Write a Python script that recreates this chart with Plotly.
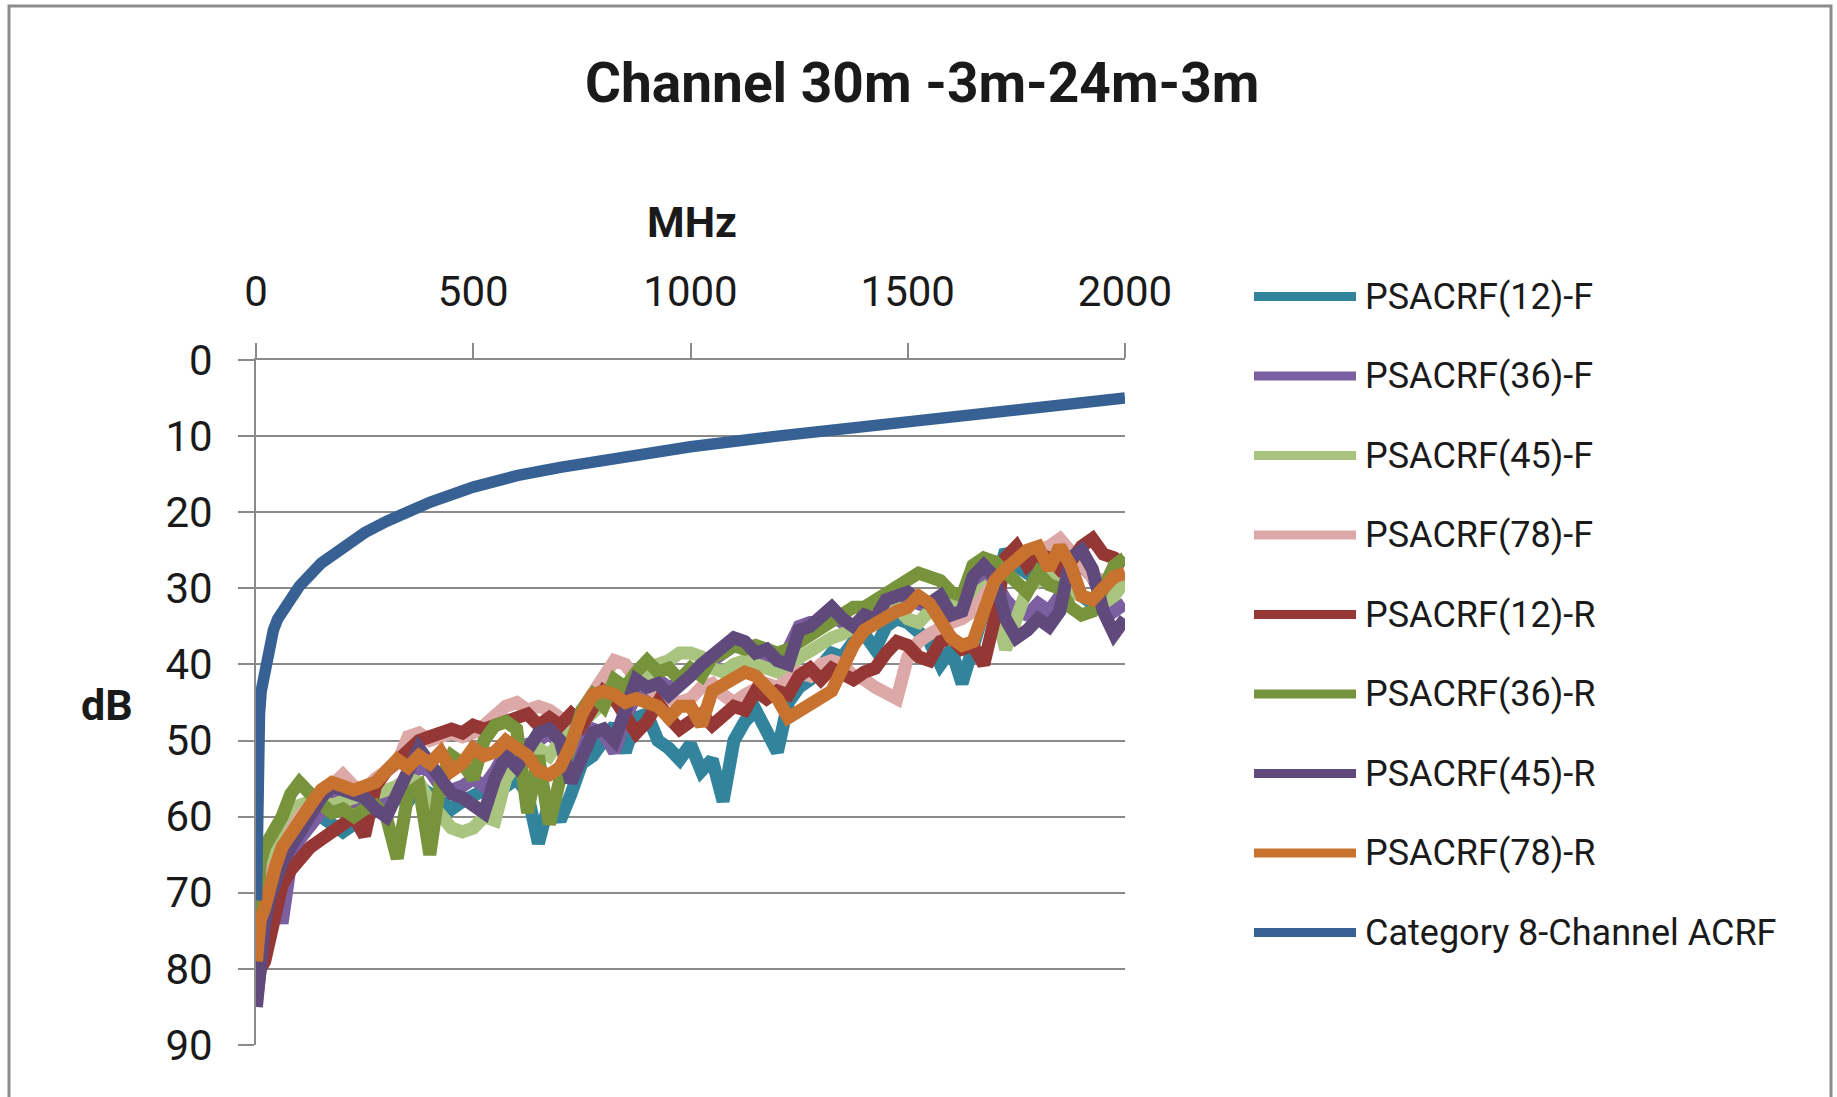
import plotly.graph_objects as go

# ---------------- data ----------------
freq = [1, 5, 10, 20, 30, 45, 60, 80, 100] + list(range(125, 2001, 25))

psacrf12_f = [78, 75, 72, 70, 68, 66, 64, 62, 60,
              59.5, 60, 61, 62, 61, 60.5, 59, 58, 57.5, 58,
              56, 57, 58, 59, 58, 57, 56.5, 57, 56, 55,
              57, 63.5, 58, 60.5, 57, 53, 52, 50, 48, 51.5,
              47, 46.5, 50, 51, 52.5, 50.5, 54, 52.5, 58, 50,
              47.5, 46, 49, 51.5, 45, 43, 42, 40.5, 38.5, 39,
              37, 36, 38, 35, 34, 34.5, 36, 37, 40, 38,
              42.5, 37, 33, 30, 25, 27, 28, 27, 29, 28,
              30, 31, 32, 31, 30, 29]

psacrf36_f = [83, 80, 77, 75, 73, 70, 74, 66, 63,
              61, 59, 57.5, 57, 58, 58, 57, 58, 56, 55,
              53.5, 54, 56, 56.5, 56, 55, 56, 54, 51.5, 52,
              50.5, 50, 49, 50.5, 53, 50, 48.5, 49, 51.5, 47,
              44, 43.5, 42, 43, 42.5, 41, 40.5, 39.5, 38.5, 37.5,
              38, 39, 39.5, 40, 38, 35, 34.5, 34.5, 33.5, 34.5,
              35, 34, 33.5, 32, 31.5, 31, 32, 32.5, 32, 33,
              32.5, 29.5, 28, 29, 31.5, 33, 33.5, 32, 33, 31,
              28, 27, 28.5, 31.5, 33, 32]

psacrf45_f = [76, 72, 68, 66, 65, 63, 61, 60, 58.5,
              58, 58, 58.5, 58, 57.5, 57, 57, 56.5, 56, 55,
              55.5, 58, 60, 61.5, 62, 61.5, 60, 60.5, 55, 53,
              52, 51, 52, 50, 49, 47.5, 46, 45, 44.5, 43,
              42, 41.5, 40, 39.5, 38.5, 38.5, 39, 40.5, 41, 40,
              39.5, 40, 40.5, 41, 40, 39, 38, 37.5, 36.5, 36,
              35, 34.5, 33.5, 33, 32.5, 34, 34.5, 33, 32.5, 32,
              31.5, 31, 30, 32, 38, 34, 30, 29, 28.5, 29,
              30.5, 31, 31.5, 32, 31, 29]

psacrf78_f = [80, 77, 74, 71, 68, 66, 64, 62, 60,
              58.5, 57, 56, 54.5, 56, 56.5, 55, 54, 53, 49.5,
              49, 50, 49.5, 49, 49.5, 49, 48, 46.5, 45.5, 45,
              46, 45.5, 46, 47, 47.5, 46, 44, 42, 39.5, 40,
              42, 43, 44, 44.5, 45, 44.5, 43, 42.5, 44, 45,
              44, 43, 42.5, 43, 42, 41, 41.5, 40, 39.5, 40,
              41.5, 42, 43, 44, 44.5, 39, 37, 36, 35, 34.5,
              34, 33, 31, 29, 27.5, 26, 25.5, 25, 24.5, 23.5,
              25, 27, 28.5, 29, 28.5, 28]

psacrf12_r = [84, 82, 80, 79, 76, 72, 69, 67, 65.5,
              64, 63, 62, 61.5, 60, 62.5, 56, 54, 52.5, 51,
              50, 49.5, 49, 48.5, 49, 48, 48.5, 48, 47.5, 47,
              46.5, 48, 47, 48, 46.5, 48, 45.5, 43.5, 44.5, 47,
              49, 47.5, 45, 47, 48.5, 47.5, 46.5, 48, 46.5, 45.5,
              46, 43.5, 44.5, 43.5, 44, 41.5, 40.5, 42, 40.5, 41.5,
              42, 41, 40.5, 38.5, 37, 37.5, 39, 39.5, 37, 36.5,
              38, 37.5, 40, 34, 26, 24.5, 27, 25.5, 26, 27.5,
              26.5, 24.5, 23.5, 25.5, 26, 27]

psacrf36_r = [75, 69, 66, 64, 63, 62, 60, 57, 55.5,
              57, 58.5, 59.5, 59, 60, 59, 58.5, 60, 65.5, 57,
              56, 65, 55, 52, 53, 55, 50, 48, 47.5, 48.5,
              59.5, 52, 61, 55, 50.5, 46, 44, 45.5, 42, 43,
              41, 39.5, 41, 40.5, 42, 40.5, 41.5, 39, 38.5, 37.5,
              38, 37.5, 38, 38.5, 38, 37, 36, 35.5, 34, 33,
              32.5, 32.5, 31.5, 30.5, 29.5, 28.5, 28, 28.5, 29, 30.5,
              31, 27, 26, 26.5, 28, 29, 30.5, 28, 29.5, 30,
              32.5, 33.5, 33, 30, 27, 26]

psacrf45_r = [85, 82, 78, 74, 71, 68, 66, 64, 62,
              59.5, 57.5, 56, 56.5, 57, 57.5, 59, 60, 57, 54,
              51, 53, 55, 57, 57.5, 58.5, 59.5, 55, 52, 53.5,
              51, 49, 48.5, 50, 55.5, 52, 49, 48.5, 50, 46,
              42, 43, 42.5, 44, 43, 41.5, 40, 39, 37.5, 36.5,
              37, 38.5, 38, 39.5, 40, 35.5, 35, 34, 32.5, 34,
              35, 33.5, 34, 31.5, 31, 30.5, 31.5, 32, 31, 33.5,
              33, 28.5, 27, 28.5, 34, 36.5, 35.5, 34, 35, 33,
              26, 25, 27.5, 33, 36, 34]

psacrf78_r = [79, 76, 73.5, 72, 69, 66.5, 64, 62.5, 61,
              58.5, 56.5, 55.5, 56, 56.5, 56, 55.5, 54, 52.5, 53.5,
              52, 53, 51.5, 54, 53, 51, 52, 51.5, 50, 51,
              52, 54, 54.5, 53.5, 50.5, 46.5, 44, 43.5, 44, 45,
              44.5, 45, 45.5, 47, 45.5, 45.5, 48, 43.5, 42.5, 42,
              41, 41.5, 43, 44.5, 47, 46, 45.5, 44, 43.5, 40.5,
              37.5, 35.5, 34.5, 34, 33, 32.5, 31, 32, 34.5, 36.5,
              37.5, 37, 33, 29, 27.5, 26, 25, 24.5, 27.5, 24.5,
              27, 31, 31.5, 30, 28.5, 28]

cat8_freq = [1, 2, 3, 5, 8, 12, 20, 30, 40, 50, 75, 100, 150, 200, 250, 300,
             350, 400, 500, 600, 700, 800, 900, 1000, 1200, 1400, 1600, 1800, 2000]
cat8_acrf = [71, 60, 55, 50, 46.5, 43.5, 40.5, 37.5, 35.5, 34, 31.5, 29.7, 26.7, 24.5, 22.7, 21.2,
             19.9, 18.7, 16.7, 15.2, 14.1, 13.1, 12.2, 11.4, 10.0, 8.7, 7.5, 6.3, 5.0]

x_ticks = [0, 500, 1000, 1500, 2000]
y_ticks = [0, 10, 20, 30, 40, 50, 60, 70, 80, 90]

series_names = ["PSACRF(12)-F", "PSACRF(36)-F", "PSACRF(45)-F", "PSACRF(78)-F",
                "PSACRF(12)-R", "PSACRF(36)-R", "PSACRF(45)-R", "PSACRF(78)-R",
                "Category 8-Channel ACRF"]
series_values = [psacrf12_f, psacrf36_f, psacrf45_f, psacrf78_f,
                 psacrf12_r, psacrf36_r, psacrf45_r, psacrf78_r]

# ---------------- styles ----------------
colors = ["#31849B", "#7B5FA0", "#A9C47F", "#DDA9A8",
          "#953735", "#77933C", "#604A7B", "#C8722F", "#376193"]

W, H = 1837, 1097
L, R, T, B = 256, 1125, 360, 1045
FONT = "Roboto, 'Open Sans', sans-serif"
TXT = "#1a1a1a"
GRID = "#8a8a8a"


def px(x):
    return (x - L) / (R - L)


def py(y):
    return (B - y) / (B - T)


fig = go.Figure()
for name, color, vals in zip(series_names[:8], colors[:8], series_values):
    fig.add_trace(go.Scatter(x=freq, y=vals, mode="lines", name=name,
                             line=dict(color=color, width=13), showlegend=False))
fig.add_trace(go.Scatter(x=cat8_freq, y=cat8_acrf, mode="lines", name=series_names[8],
                         line=dict(color=colors[8], width=11.5), showlegend=False))

fig.update_layout(
    width=W, height=H,
    margin=dict(l=L, r=W - R, t=T, b=H - B, autoexpand=False),
    paper_bgcolor="white", plot_bgcolor="white",
    font=dict(family=FONT, color=TXT),
    xaxis=dict(range=[0, 2000], side="top", tickvals=x_ticks,
               ticks="outside", ticklen=15, tickwidth=2, tickcolor=GRID,
               showline=True, linecolor=GRID, linewidth=2,
               showgrid=False, zeroline=False,
               tickfont=dict(size=42, color=TXT, family=FONT),
               ticklabelstandoff=20),
    yaxis=dict(range=[90, 0], tickvals=y_ticks,
               ticks="outside", ticklen=16, tickwidth=2, tickcolor=GRID,
               showline=True, linecolor=GRID, linewidth=2,
               showgrid=True, gridcolor=GRID, gridwidth=2, zeroline=False,
               tickfont=dict(size=42, color=TXT, family=FONT),
               ticklabelstandoff=17),
)

annotations = [
    dict(text="<b>Channel 30m -3m-24m-3m</b>", x=px(922), y=py(83), xref="paper", yref="paper",
         xanchor="center", yanchor="middle", showarrow=False, font=dict(size=55, color=TXT, family=FONT)),
    dict(text="<b>MHz</b>", x=px(692), y=py(222), xref="paper", yref="paper",
         xanchor="center", yanchor="middle", showarrow=False, font=dict(size=43, color=TXT, family=FONT)),
    dict(text="<b>dB</b>", x=px(107), y=py(705), xref="paper", yref="paper",
         xanchor="center", yanchor="middle", showarrow=False, font=dict(size=43, color=TXT, family=FONT)),
]

shapes = [
    dict(type="rect", xref="paper", yref="paper", x0=px(9), x1=px(1831), y0=py(1120), y1=py(6),
         line=dict(color="#8c8c8c", width=3), layer="below"),
]

for i, (name, color) in enumerate(zip(series_names, colors)):
    yc = 296.5 + i * 79.5
    shapes.append(dict(type="line", xref="paper", yref="paper", x0=px(1254), x1=px(1356),
                       y0=py(yc), y1=py(yc), line=dict(color=color, width=9)))
    annotations.append(dict(text=name, x=px(1363), y=py(yc), xref="paper", yref="paper",
                            xanchor="left", yanchor="middle", showarrow=False,
                            font=dict(size=36, color=TXT, family=FONT)))

fig.update_layout(annotations=annotations, shapes=shapes)
fig.write_html("out.html", config={"displayModeBar": False},
               post_script="document.body.style.margin='0px';document.body.style.overflow='hidden';")
